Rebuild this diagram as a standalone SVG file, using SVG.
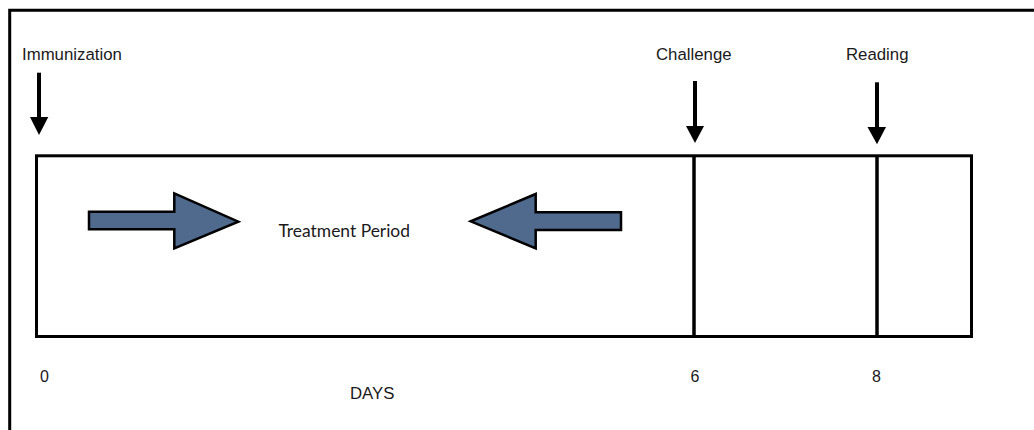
<svg xmlns="http://www.w3.org/2000/svg" width="1034" height="430" viewBox="0 0 1034 430">
<style>
.lbl{font-family:"Liberation Sans",Arial,sans-serif;font-size:16.8px;fill:#1a1a1a}
.num{font-family:"Liberation Sans",Arial,sans-serif;font-size:16px;fill:#1a1a1a}
.tp{font-family:Lato,"Open Sans",sans-serif;font-size:16.5px;fill:#1a1a1a}
.frame{fill:none;stroke:#000;stroke-width:3}
.box{fill:none;stroke:#000;stroke-width:3}
.div{stroke:#000;stroke-width:3.5}
.down{stroke:#000;stroke-width:4;fill:none}
.head{fill:#000}
.blue{fill:#4f6a8d;stroke:#000;stroke-width:2.5;stroke-linejoin:miter}
</style>
<rect width="1034" height="430" fill="#fff"/>
<path class="frame" d="M9.7,430 V10.3 H1034"/>
<g id="timeline">
<rect class="box" x="36.5" y="155.8" width="935" height="180.7"/>
<line class="div" x1="694" y1="155.8" x2="694" y2="336.5"/>
<line class="div" x1="877" y1="155.8" x2="877" y2="336.5"/>
</g>
<g id="immunization">
<text class="lbl" x="22" y="60">Immunization</text>
</g>
<g id="challenge">
<text class="lbl" x="656" y="60">Challenge</text>
</g>
<g id="reading">
<text class="lbl" x="846" y="60">Reading</text>
</g>
<g id="treatment">
<text class="tp" x="278.5" y="236.5" textLength="131.5" lengthAdjust="spacingAndGlyphs">Treatment Period</text>
<path class="blue" d="M89,211.7 H174.3 V193.3 L238.3,221.7 L174.3,248.3 V229.3 H89 Z"/>
<path class="blue" d="M621,212.3 H535.7 V194 L470.7,221.3 L535.7,248.3 V230 H621 Z"/>
</g>
<g id="days">
<text class="num" x="40" y="382.3">0</text>
<text class="num" x="690.5" y="382.3">6</text>
<text class="num" x="872" y="382.3">8</text>
<text class="lbl" x="350" y="399">DAYS</text>
</g>
<g id="connectors">
<line class="down" x1="39" y1="72.7" x2="39" y2="118"/>
<path class="head" d="M30,117 H48.3 L39,135 Z"/>
<line class="down" x1="695" y1="81" x2="695" y2="127"/>
<path class="head" d="M686,126 H704 L695,143 Z"/>
<line class="down" x1="877" y1="82.3" x2="877" y2="128"/>
<path class="head" d="M867.5,127 H886 L877,144.3 Z"/>
</g>
</svg>
